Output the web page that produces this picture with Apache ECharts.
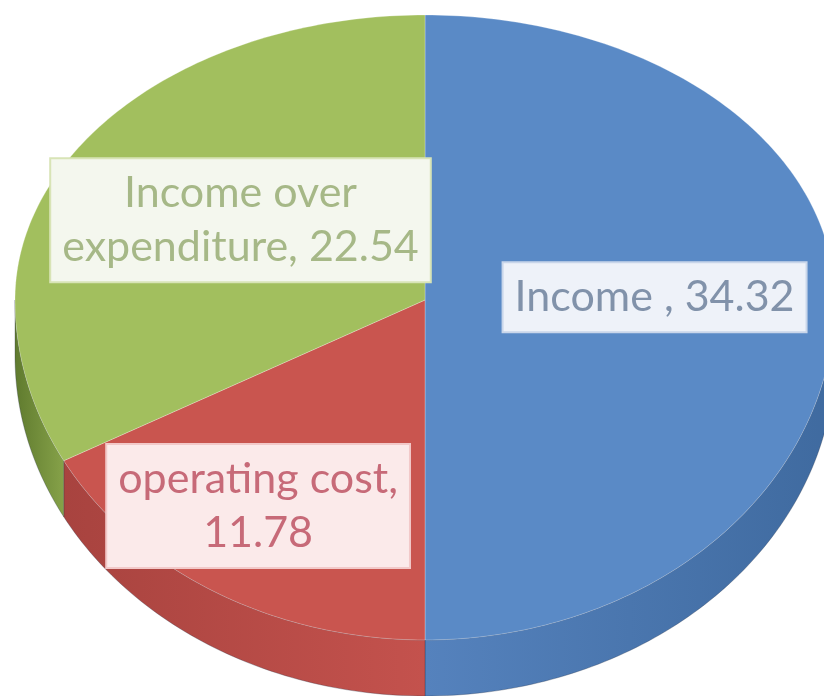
<!DOCTYPE html>
<html>
<head>
<meta charset="utf-8">
<script src="https://cdn.jsdelivr.net/npm/echarts@6/dist/echarts.min.js"></script>
<style>
  html, body { margin: 0; padding: 0; background: #fff; }
  #chart { width: 824px; height: 696px; }
</style>
</head>
<body>
<div id="chart"></div>
<script>
// ====== data ======
const categories = ['Income ', 'operating cost', 'Income over\nexpenditure'];
const values = [34.32, 11.78, 22.54];
const labelSep = [' ', '\n', ' '];

// ====== styles ======
const topColors = ['#5a8ac6', '#c9554f', '#a2bf5e'];
const wallColors = [['#5582bd', '#3f6a9f'], ['#a8433f', '#c4524d'], ['#5f7a2e', '#86a249']];
const textColors = ['#8192aa', '#c76a78', '#a6b887'];
const boxColors = ['#eef2f9', '#fbeaea', '#f4f7ee'];
const boxBorders = ['#c9d6ea', '#f2c9c9', '#d8e4b6'];
// label anchor: fraction of radius and small turn (deg) off the slice's mid angle
const labelFrac = [0.56, 0.73, 0.53];
const labelTurn = [1, -3, -1];

// pie geometry (3D-ish ellipse, front half a bit deeper for perspective)
const CX = 425, CY = 300, RX = 410, RY_TOP = 285, RY_BOT = 340, DEPTH = 56;

const total = values.reduce((a, b) => a + b, 0);

function pt(deg, frac = 1, dy = 0) {
  const r = deg * Math.PI / 180;
  const s = Math.sin(r);
  return [CX + frac * RX * Math.cos(r), CY - frac * (s > 0 ? RY_TOP : RY_BOT) * s + dy];
}

function arc(a0, a1, dy = 0) {
  const n = Math.max(2, Math.ceil(Math.abs(a0 - a1)));
  const pts = [];
  for (let i = 0; i <= n; i++) pts.push(pt(a0 + (a1 - a0) * i / n, 1, dy));
  return pts;
}

const chart = echarts.init(document.getElementById('chart'), null, { width: 824, height: 696 });

chart.setOption({
  backgroundColor: '#ffffff',
  animation: false,
  series: [{
    type: 'custom',
    coordinateSystem: 'none',
    data: values.map((v, i) => ({ name: categories[i], value: v })),
    renderItem: (params, api) => {
      const i = params.dataIndex;
      const before = values.slice(0, i).reduce((a, b) => a + b, 0);
      const start = 90 - 360 * before / total;      // clockwise from top
      const end = start - 360 * values[i] / total;
      const children = [];

      // side wall: only the front (lower) half is visible
      const hi = Math.min(start, 0), lo = Math.max(end, -180);
      if (hi > lo) {
        const pts = arc(hi, lo).concat(arc(lo, hi, DEPTH));
        children.push({
          type: 'polygon',
          shape: { points: pts },
          style: {
            fill: new echarts.graphic.LinearGradient(0, 0, 1, 0, [
              { offset: 0, color: wallColors[i][0] },
              { offset: 1, color: wallColors[i][1] }
            ]),
            stroke: 'rgba(40,50,70,0.3)',
            lineWidth: 1
          }
        });
      }

      // top surface
      children.push({
        type: 'polygon',
        shape: { points: [[CX, CY]].concat(arc(start, end)) },
        style: { fill: topColors[i], stroke: 'rgba(255,255,255,0.25)', lineWidth: 1 }
      });

      // data label
      const lp = pt((start + end) / 2 + labelTurn[i], labelFrac[i]);
      children.push({
        type: 'text',
        x: lp[0],
        y: lp[1],
        z2: 100,
        style: {
          text: `${categories[i]},${labelSep[i]}${values[i].toFixed(2)}`,
          fill: textColors[i],
          fontFamily: 'Lato, "Open Sans", sans-serif',
          fontSize: 43,
          lineHeight: 54,
          align: 'center',
          verticalAlign: 'middle',
          backgroundColor: boxColors[i],
          borderColor: boxBorders[i],
          borderWidth: 2,
          padding: [7, 11]
        }
      });

      return { type: 'group', children };
    }
  }]
});
</script>
</body>
</html>
